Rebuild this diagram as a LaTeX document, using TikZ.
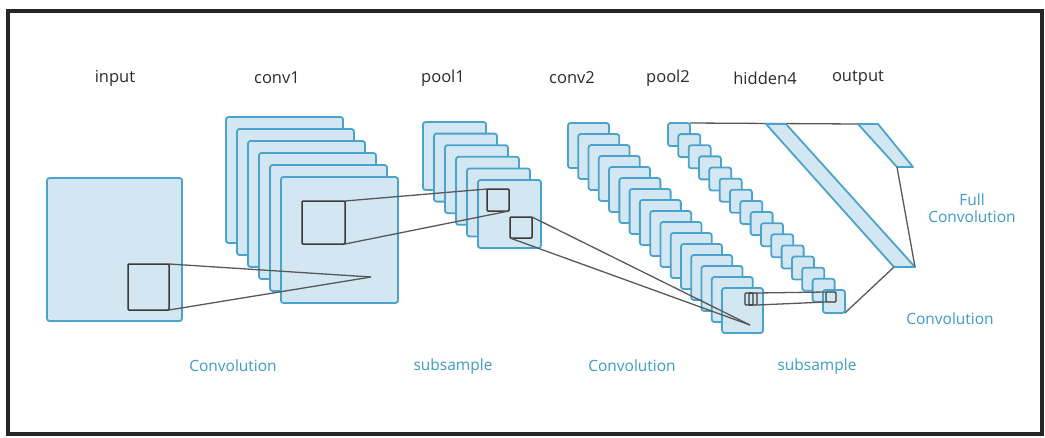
\documentclass[tikz,border=0pt]{standalone}
\usepackage{fontspec}
\setmainfont{Open Sans}
\definecolor{ffill}{HTML}{D2E7F1}
\definecolor{fstroke}{HTML}{4AA3CC}
\definecolor{kline}{HTML}{3A3A3A}
\definecolor{labelc}{HTML}{2A2A2A}
\definecolor{bluec}{HTML}{3B9BCB}
\begin{document}
\begin{tikzpicture}[x=1pt,y=-1pt,
  fmap/.style={draw=fstroke, fill=ffill, line width=1.8pt, rounded corners=2.5pt, anchor=north west, inner sep=0pt, outer sep=0pt},
  kern/.style={draw=kline, line width=1.5pt, anchor=north west, inner sep=0pt, outer sep=0pt, rounded corners=1pt},
  link/.style={draw=kline!85, line width=1.3pt},
  lbl/.style={text=labelc, font=\fontsize{16.5}{19}\selectfont},
  blbl/.style={text=bluec, font=\fontsize{15.5}{17}\selectfont, align=center},
  bar/.style={draw=fstroke, fill=ffill, line width=1.8pt, line join=round}]
\useasboundingbox (0,0) rectangle (1045,437);
% outer frame
\draw[line width=3.5pt, black!85] (8,11) rectangle (1042,434);

% labels
\node[lbl] (tin) at (115,78) {input};
\node[lbl] (tc1) at (277,78) {conv1};
\node[lbl] (tp1) at (443,78) {pool1};
\node[lbl] (tc2) at (572,78) {conv2};
\node[lbl] (tp2) at (668,78) {pool2};
\node[lbl] (th4) at (765,78) {hidden4};
\node[lbl] (tout) at (858,78) {output};

\node[blbl] (b1) at (233,366) {Convolution};
\node[blbl] (b2) at (453,366) {subsample};
\node[blbl] (b3) at (632,366) {Convolution};
\node[blbl] (b4) at (817,366) {subsample};
\node[blbl] (b5) at (950,319) {Convolution};
\node[blbl] (b6) at (972,208) {Full\\Convolution};

% input
\node[fmap, minimum width=135pt, minimum height=143pt] (in) at (47,178) {};
\node[kern, minimum width=41pt, minimum height=46pt] (insq) at (128,264) {};

% conv1 stack
\foreach \i in {0,...,5}
  \node[fmap, minimum width=117pt, minimum height=126pt] (c1-\i) at ({226+11*\i},{117+12*\i}) {};
\node[kern, minimum width=43pt, minimum height=43pt] (c1sq) at (302,201) {};
\coordinate (a1) at (371,277);

% pool1 stack
\foreach \i in {0,...,5}
  \node[fmap, minimum width=63pt, minimum height=68pt] (p1-\i) at ({423+11*\i},{122+11.6*\i}) {};
\node[kern, minimum width=22pt, minimum height=22pt] (p1sqa) at (487,189) {};
\node[kern, minimum width=22pt, minimum height=21pt] (p1sqb) at (510,217) {};

% conv2 stack
\foreach \i in {0,...,15}
  \node[fmap, minimum width=41pt, minimum height=45pt] (c2-\i) at ({568+10.27*\i},{123+11*\i}) {};
\coordinate (a2) at (750,325);
\node[kern, minimum width=8pt, minimum height=12pt, line width=1.2pt] (c2sqa) at (745,293) {};
\node[kern, minimum width=8pt, minimum height=12pt, line width=1.2pt] (c2sqb) at (749,293) {};

% pool2 stack
\draw[link] (668+22,123) coordinate (p2top) -- (858,124) coordinate (otl0);
\foreach \i in {0,...,15}
  \node[fmap, minimum width=22pt, minimum height=23pt] (p2-\i) at ({668+10.33*\i},{123+11.13*\i}) {};
\node[kern, minimum width=10pt, minimum height=10pt, line width=1.2pt] (p2sq) at (826,292) {};

% hidden4 and output bars
\coordinate (h-tl) at (766,124);
\coordinate (h-tr) at (786,124);
\coordinate (h-br) at (915,267);
\coordinate (h-bl) at (894,267);
\coordinate (o-tl) at (858,124);
\coordinate (o-tr) at (878,124);
\coordinate (o-br) at (913,167);
\coordinate (o-bl) at (897,167);
\filldraw[bar] (h-tl) -- (h-tr) -- (h-br) -- (h-bl) -- cycle;
\filldraw[bar] (o-tl) -- (o-tr) -- (o-br) -- (o-bl) -- cycle;

% connectors
\draw[link] (insq.north east) -- (a1);
\draw[link] (insq.south east) -- (a1);
\draw[link] (c1sq.north east) -- (p1sqa.north west);
\draw[link] (c1sq.south east) -- (p1sqa.south east);
\draw[link] (p1sqb.north east) -- (a2);
\draw[link] (p1sqb.south west) -- (a2);
\draw[link] (c2sqb.north east) -- (p2sq.north west);
\draw[link] (c2sqb.south east) -- (p2sq.south west);
\draw[link] (o-bl) -- (h-br);
\draw[link] (h-bl) -- (p2-15.south east);
\end{tikzpicture}
\end{document}
